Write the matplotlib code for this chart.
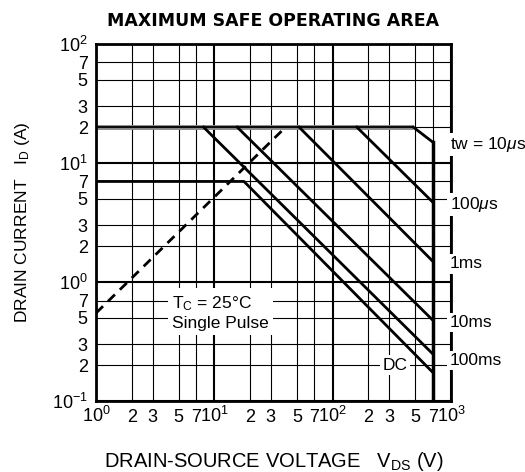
import matplotlib
matplotlib.use('Agg')
import matplotlib.pyplot as plt
import matplotlib.transforms as mtransforms
from matplotlib.ticker import FixedLocator, FixedFormatter

plt.rcParams['font.family'] = ['Liberation Sans', 'DejaVu Sans']
plt.rcParams['mathtext.fontset'] = 'custom'
plt.rcParams['mathtext.rm'] = 'Liberation Sans'
plt.rcParams['mathtext.it'] = 'Liberation Sans:italic'

# limits
id_max = 20        # A, pulsed
vds_max = 700      # V

# pulse curves: knee on the 20 A line, current at 700 V
pulse_names = [r'tw = 10$\mu$s', r'100$\mu$s', '1ms', '10ms', '100ms']
knee_v = [480, 160, 52, 15.6, 8.1]
id_at_vmax = [15, 4.7, 1.5, 0.48, 0.25]

# DC curve
dc_v = [1, 17.8, 700]
dc_i = [7, 7, 0.175]

# RDS(on) limit (dashed)
rds_v = [1, 40]
rds_i = [0.55, 20]

# axis ticks
decades = [1, 10, 100, 1000]
x_minor = [2, 3, 5, 7, 20, 30, 50, 70, 200, 300, 500, 700]
x_minor_lab = ['2', '3', '5', '7'] * 3
y_dec = [0.1, 1, 10, 100]
y_minor = [0.2, 0.3, 0.5, 0.7, 2, 3, 5, 7, 20, 30, 50, 70]
y_minor_lab = ['2', '3', '5', '7'] * 3

fig = plt.figure(figsize=(5.25, 4.72), dpi=100)
ax = fig.add_axes([0.183, 0.150, 0.676, 0.757])
ax.set_xscale('log')
ax.set_yscale('log')
ax.set_xlim(1, 1000)
ax.set_ylim(0.1, 100)

ax.xaxis.set_major_locator(FixedLocator(decades))
ax.xaxis.set_major_formatter(FixedFormatter([r'10$^{0}$', r'10$^{1}$', r'10$^{2}$', r'10$^{3}$']))
ax.xaxis.set_minor_locator(FixedLocator(x_minor))
ax.xaxis.set_minor_formatter(FixedFormatter(x_minor_lab))
ax.yaxis.set_major_locator(FixedLocator(y_dec))
ax.yaxis.set_major_formatter(FixedFormatter([r'10$^{-1}$', r'10$^{0}$', r'10$^{1}$', r'10$^{2}$']))
ax.yaxis.set_minor_locator(FixedLocator(y_minor))
ax.yaxis.set_minor_formatter(FixedFormatter(y_minor_lab))

ax.tick_params(which='both', length=0, labelsize=13)
ax.tick_params(axis='x', which='both', pad=15)
ax.tick_params(axis='y', which='both', pad=6)
for lab in ax.get_xticklabels(which='both'):
    lab.set_va('baseline')

ax.set_axisbelow(True)
ax.grid(which='major', color='black', lw=1.5)
ax.grid(which='minor', color='black', lw=0.8)
for s in ax.spines.values():
    s.set_linewidth(2)

# 20 A limit
ax.plot([1, knee_v[0]], [id_max, id_max], color='#888888', lw=3.5, solid_capstyle='butt')
ax.plot([1, knee_v[0]], [id_max, id_max], color='black', lw=1.3)

# pulse curves
for kv, iv in zip(knee_v, id_at_vmax):
    ax.plot([kv, vds_max], [id_max, iv], color='black', lw=2)

# DC curve
ax.plot(dc_v, dc_i, color='black', lw=2)

# 700 V limit
ax.plot([vds_max, vds_max], [id_at_vmax[0], 0.1], color='black', lw=2.5)

# RDS(on) dashed
ax.plot(rds_v, rds_i, color='black', lw=2, ls=(0, (3.5, 2.5)))

# curve labels on the right
trans = mtransforms.blended_transform_factory(ax.transAxes, ax.transData)
label_y = [14.4, 4.5, 1.42, 0.455, 0.218]
for name, y in zip(pulse_names, label_y):
    ax.text(0.996, y, name, transform=trans, ha='left', va='center', fontsize=12.5,
            bbox=dict(facecolor='white', edgecolor='none', pad=1.5), clip_on=False, zorder=5)

ax.text(0.842, 0.101, 'DC', transform=ax.transAxes, ha='center', va='center', fontsize=12.5,
        bbox=dict(facecolor='white', edgecolor='none', pad=2), zorder=5)
ax.text(0.213, 0.249, 'T$_\\mathregular{C}$ = 25°C\nSingle Pulse', transform=ax.transAxes,
        ha='left', va='center', fontsize=12.5, linespacing=1.25,
        bbox=dict(facecolor='white', edgecolor='none', pad=3), zorder=5)

ax.set_title('MAXIMUM SAFE OPERATING AREA', fontsize=12.5, fontweight='bold',
             family='DejaVu Sans', pad=13)
ax.set_ylabel('DRAIN CURRENT   I$_\\mathregular{D}$ (A)', fontsize=12.5, labelpad=14)
ax.set_xlabel('DRAIN-SOURCE VOLTAGE   V$_\\mathregular{DS}$ (V)', fontsize=14.5, labelpad=17)

fig.savefig('out.png', dpi=100)
